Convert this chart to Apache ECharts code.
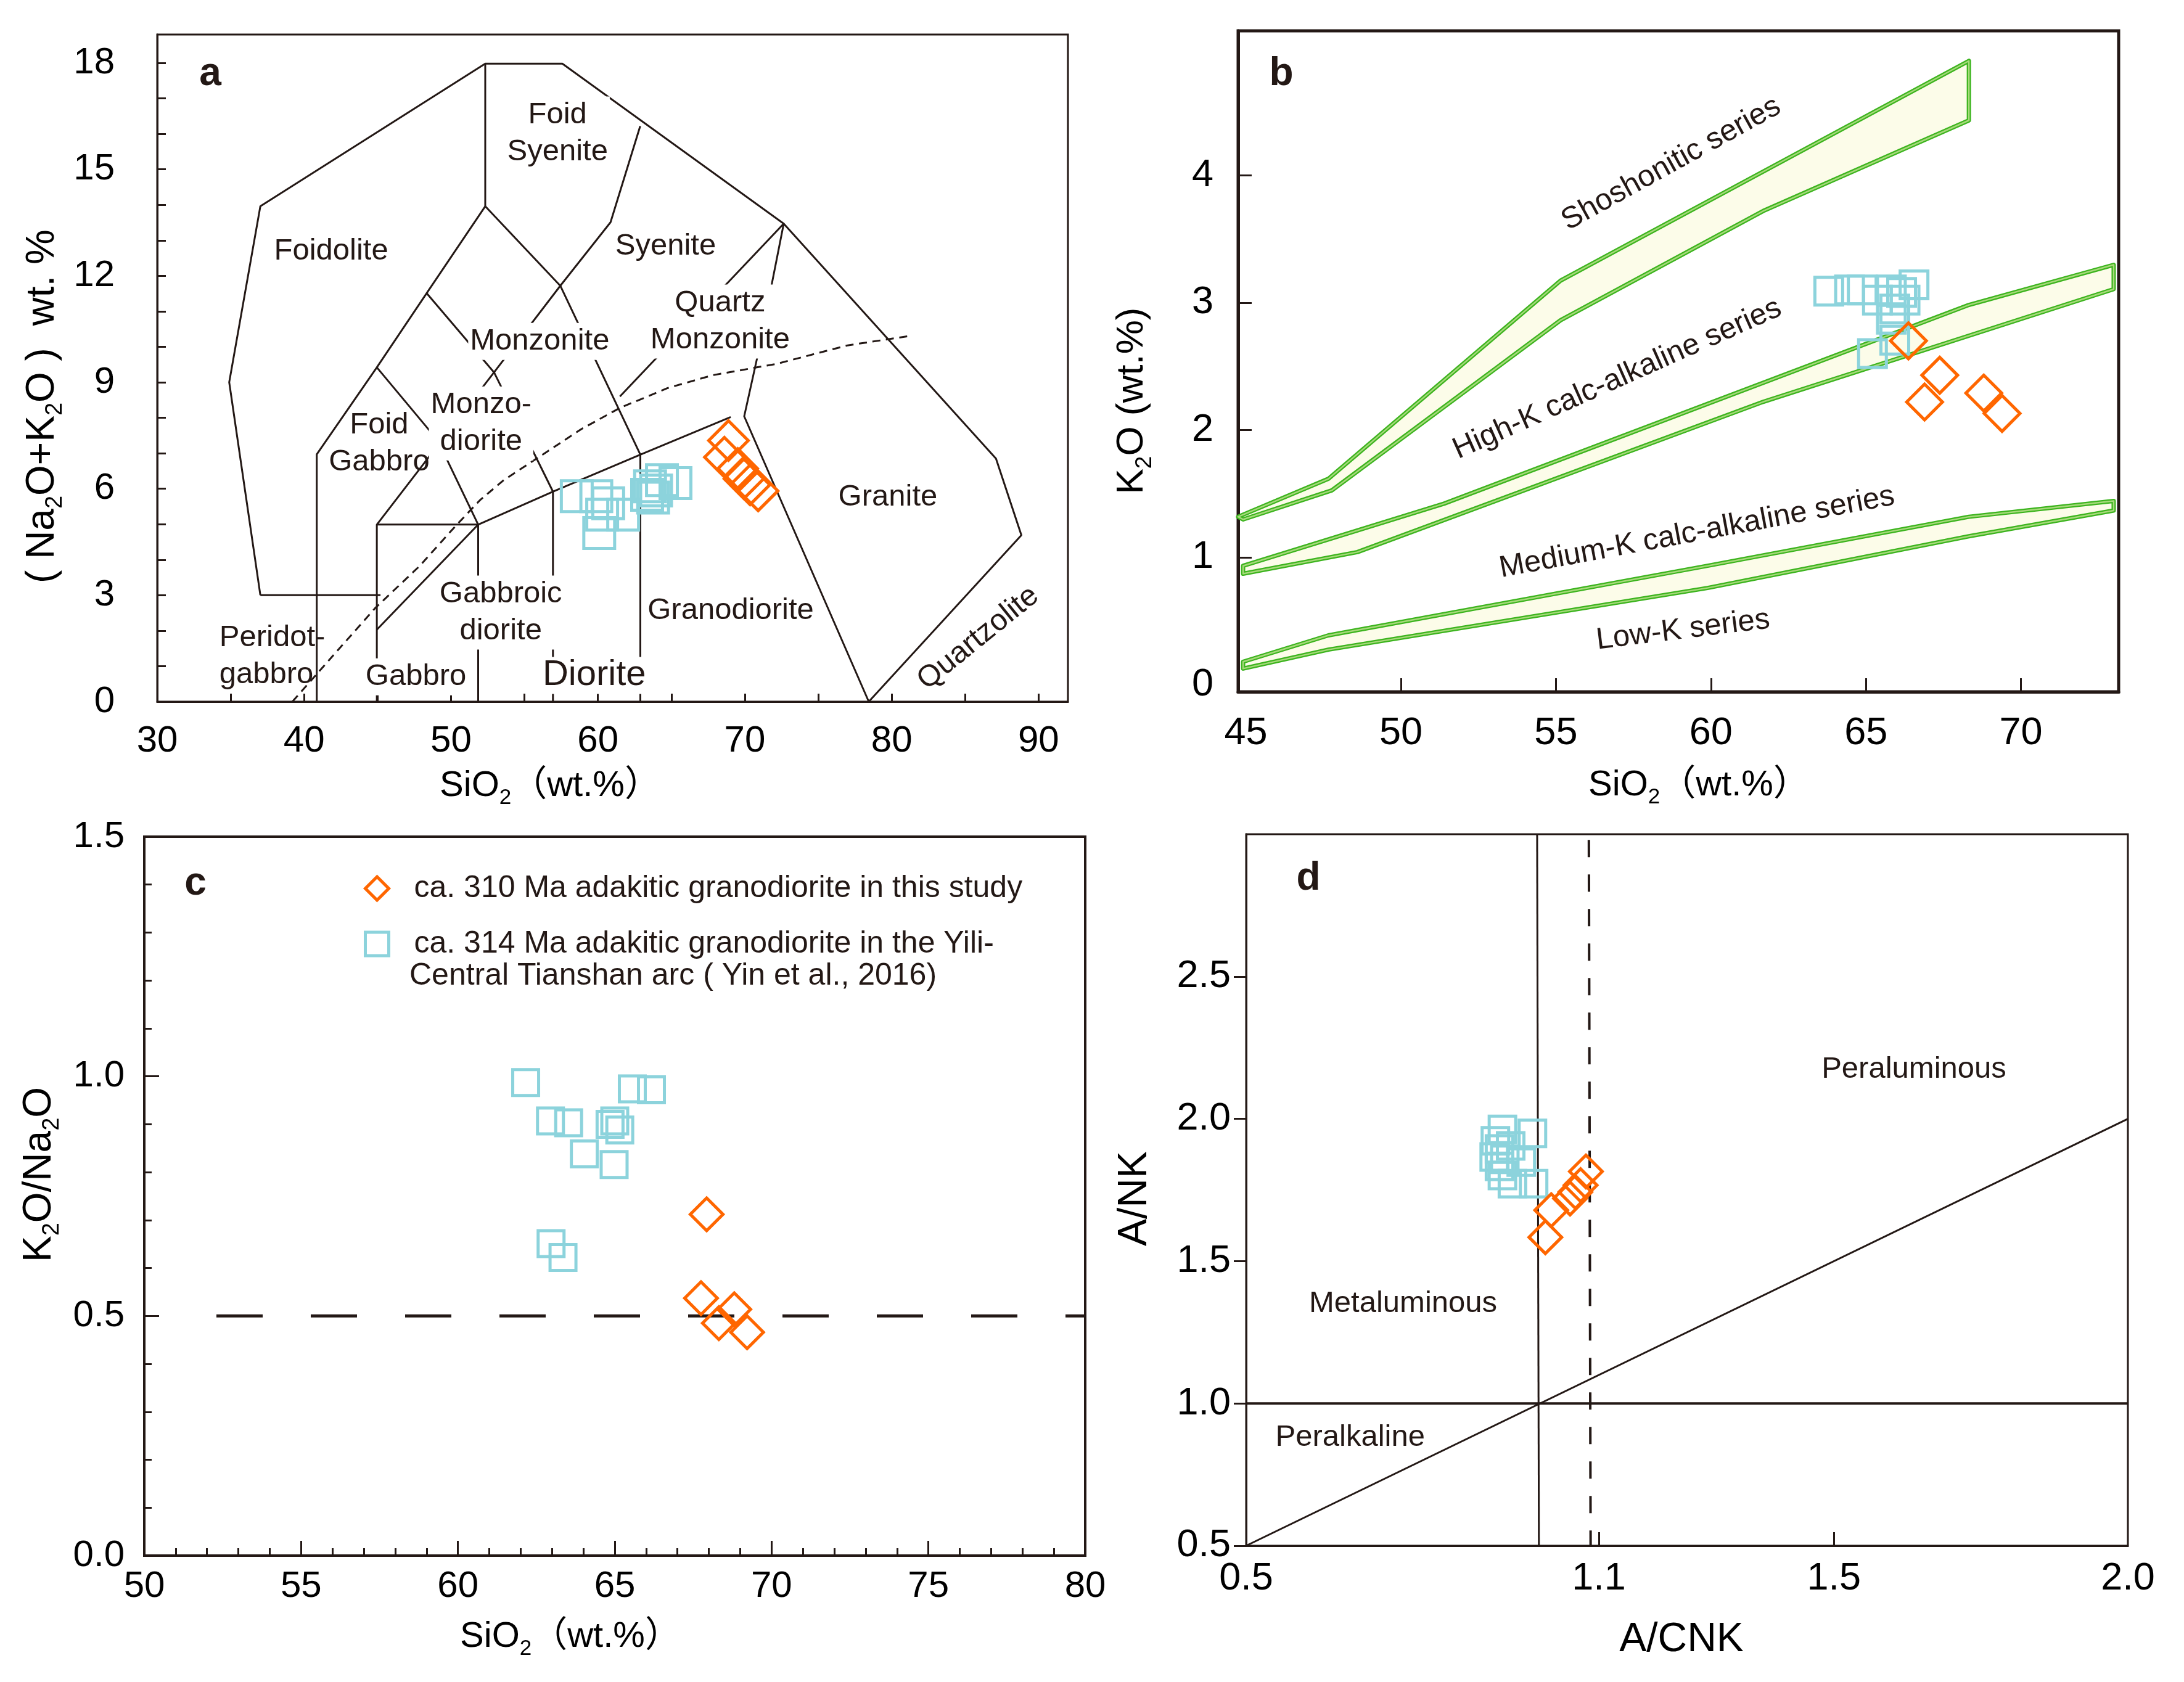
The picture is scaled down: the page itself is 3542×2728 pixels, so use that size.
<!DOCTYPE html>
<html>
<head>
<meta charset="utf-8">
<script src="https://cdn.jsdelivr.net/npm/echarts@6/dist/echarts.min.js"></script>
<style>html,body{margin:0;padding:0;background:#fff}#c{width:3542px;height:2728px}</style>
</head>
<body>
<div id="c"></div>
<script>
// ---------------- DATA ----------------
const NAME_THIS = 'ca. 310 Ma adakitic granodiorite in this study';
const NAME_YIN = 'ca. 314 Ma adakitic granodiorite in the Yili-\nCentral Tianshan arc ( Yin et al., 2016)';

// Panel a: TAS (SiO2 vs Na2O+K2O)
const tasSiO2_this = [68.89, 68.61, 69.52, 69.94, 70.36, 70.91];
const tasAlk_this  = [7.36, 6.89, 6.57, 6.28, 6.11, 5.94];
const tasSiO2_yin  = [58.56, 59.89, 60.70, 60.29, 60.09, 61.72, 63.35, 63.55, 64.36, 65.28, 63.76, 63.96];
const tasAlk_yin   = [5.79, 5.79, 5.59, 5.27, 4.75, 5.27, 5.83, 6.07, 6.24, 6.16, 5.75, 5.95];

// Panel b: SiO2 vs K2O
const kSiO2_this = [66.37, 67.38, 66.89, 68.80, 69.39];
const kK2O_this  = [2.70, 2.43, 2.22, 2.29, 2.13];
const kSiO2_yin  = [63.80, 64.47, 64.88, 65.37, 65.82, 66.15, 66.55, 66.26, 65.93, 65.82, 65.93, 65.21];
const kK2O_yin   = [3.09, 3.10, 3.10, 3.02, 3.10, 3.08, 3.14, 3.02, 2.95, 2.87, 2.705, 2.60];

// Panel c: SiO2 vs K2O/Na2O
const rSiO2_this = [67.93, 67.75, 68.81, 68.32, 69.22];
const rRatio_this = [0.712, 0.537, 0.514, 0.485, 0.466];
const rSiO2_yin  = [62.16, 62.95, 63.53, 64.03, 64.98, 65.00, 65.16, 65.56, 66.17, 62.97, 63.35, 64.85];
const rRatio_yin = [0.987, 0.907, 0.903, 0.838, 0.816, 0.907, 0.888, 0.974, 0.972, 0.651, 0.622, 0.900];

// Panel d: A/CNK vs A/NK
const dACNK_this = [1.009, 1.019, 1.051, 1.060, 1.069, 1.078];
const dANK_this  = [1.584, 1.679, 1.720, 1.743, 1.767, 1.815];
const dACNK_yin  = [0.936, 0.987, 0.924, 0.931, 0.922, 0.968, 0.931, 0.936, 0.953, 0.989, 0.950, 0.940];
const dANK_yin   = [1.963, 1.949, 1.923, 1.894, 1.866, 1.848, 1.833, 1.801, 1.772, 1.772, 1.905, 1.858];

// Field boundaries (data coordinates)
const tasBoundaries = [
  [[37.02,3.0],[34.9,9.0],[37.02,13.96],[52.33,17.98],[57.58,17.98],[72.65,13.47],[87.1,6.85],[88.83,4.69],[78.44,0]],
  [[37.02,3.0],[45.2,3.0]],
  [[52.33,17.98],[52.33,13.96]],
  [[52.33,13.96],[48.34,11.51],[44.95,9.42],[40.86,6.97],[40.86,0]],
  [[52.33,13.96],[57.44,11.72],[62.89,6.96],[62.89,0]],
  [[62.88,16.22],[60.86,13.51],[57.44,11.72],[52.93,9.28],[44.95,4.99],[44.95,0]],
  [[48.34,11.51],[52.93,9.28],[56.94,5.92],[56.94,0]],
  [[44.95,9.42],[49.1,7.36],[51.85,4.99],[51.85,0]],
  [[44.95,4.99],[51.85,4.99]],
  [[44.95,2.03],[51.85,4.99],[56.94,5.92],[62.89,6.96],[69.04,8.02]],
  [[72.65,13.47],[61.5,8.6]],
  [[72.65,13.47],[70.88,9.76],[69.96,8.04],[78.44,0]]
];
const tasAlkalineCurve = [[39.2,0],[44.82,2.63],[47.88,3.83],[50.31,4.95],[51.95,5.67],[53.58,6.24],[56.23,6.96],[58.87,7.68],[61.51,8.28],[64.77,8.84],[67.82,9.2],[72.17,9.52],[76.99,10.04],[81.32,10.31]];

const bandShoUpper = [[44.75,1.319],[47.66,1.617],[55.15,3.173],[68.32,4.898]];
const bandShoLower = [[44.91,1.298],[47.77,1.526],[55.15,2.862],[61.68,3.719],[68.32,4.431]];
const bandHiKUpper = [[44.91,0.934],[51.39,1.422],[68.32,2.982],[72.99,3.297]];
const bandHiKLower = [[44.91,0.872],[48.6,1.042],[61.68,2.221],[72.99,3.106]];
const bandLoKUpper = [[44.91,0.181],[47.66,0.388],[59.89,0.934],[68.32,1.319],[72.99,1.443]];
const bandLoKLower = [[44.91,0.127],[47.66,0.276],[59.89,0.760],[68.32,1.166],[72.99,1.368]];

const ratioLine = [[52.3,0.5],[80,0.5]];
const dHorizontal = [[0.5,1.0],[2.0,1.0]];
const dDiagonal = [[0.5,0.5],[2.0,2.0]];
const dMetaluminous = [[0.995,3.0],[0.998,0.5]];
const dDashed = [[1.083,2.98],[1.086,0.5]];

// Tick values / labels
const aXTicks = [30,35,40,45,50,55,60,65,70,75,80,85,90];
const aXLabels = [30,40,50,60,70,80,90];
const aYTicks = [0,1,2,3,4,5,6,7,8,9,10,11,12,13,14,15,16,17,18];
const aYLabels = [0,3,6,9,12,15,18];
const bXTicks = [50,55,60,65,70];
const bXLabels = [45,50,55,60,65,70];
const bYTicks = [1,2,3,4];
const bYLabels = [0,1,2,3,4];
const dXTicks = [1.1,1.5];
const dXLabels = [0.5,1.1,1.5,2.0];
const dYTicks = [0.5,1.0,1.5,2.0,2.5];
const dYLabels = [0.5,1.0,1.5,2.0,2.5];

// Field names
const tasFieldNames = [
  {t:'Foid\nSyenite', x:57.25, y:16.01, bg:true},
  {t:'Foidolite', x:41.84, y:12.69},
  {t:'Syenite', x:64.61, y:12.84, bg:true},
  {t:'Quartz\nMonzonite', x:68.32, y:10.71, bg:true},
  {t:'Monzonite', x:56.04, y:10.15, bg:true},
  {t:'Monzo-\ndiorite', x:52.05, y:7.84, bg:true},
  {t:'Foid\nGabbro', x:45.11, y:7.28},
  {t:'Granite', x:79.74, y:5.76},
  {t:'Gabbroic\ndiorite', x:53.39, y:2.51, bg:true},
  {t:'Granodiorite', x:69.04, y:2.56, bg:true},
  {t:'Peridot-\ngabbro', x:34.23, y:1.28, align:'left'},
  {t:'Gabbro', x:47.61, y:0.70, bg:true},
  {t:'Diorite', x:59.75, y:0.74, fs:58, bg:true},
  {t:'Quartzolite', x:85.9, y:1.79, r:39}
];
const kSeriesNames = [
  {t:'Shoshonitic series', x:58.72, y:4.09, r:29},
  {t:'High-K calc-alkaline series', x:56.98, y:2.40, r:24},
  {t:'Medium-K calc-alkaline series', x:59.55, y:1.195, r:10.5},
  {t:'Low-K series', x:59.1, y:0.429, r:7}
];
const dFieldNames = [
  {t:'Peraluminous', x:1.636, y:2.173},
  {t:'Metaluminous', x:0.767, y:1.35},
  {t:'Peralkaline', x:0.677, y:0.88}
];

// ---------------- STYLE ----------------
const FONT = "'Liberation Sans', Arial, 'Noto Sans CJK SC', sans-serif";
const INK = '#231815';
const ORANGE = '#ff6600';
const CYAN = '#8cd3dc';

const grids = [
  {left:255, top:56, width:1477, height:1082, bw:3},
  {left:2008, top:50, width:1428, height:1072, bw:5},
  {left:234, top:1357, width:1526, height:1166, bw:4},
  {left:2021, top:1353, width:1430, height:1154, bw:3}
];

function axis(g, o) {
  const a = {
    type:'value', gridIndex:g, min:o.min, max:o.max,
    splitLine:{show:false},
    axisLine:{show:true, onZero:false, lineStyle:{color:INK, width:grids[g].bw}},
    axisTick:{show:true, inside:o.inside, length:o.tickLen, lineStyle:{color:INK, width:3}},
    axisLabel:{show:true, margin:o.margin, fontSize:o.fs, fontFamily:FONT, color:'#000'}
  };
  if (o.ticks) a.axisTick.customValues = o.ticks;
  if (o.labels) a.axisLabel.customValues = o.labels;
  if (o.interval) a.interval = o.interval;
  if (o.fmt) a.axisLabel.formatter = o.fmt;
  if (o.minor) a.minorTick = {show:true, splitNumber:o.minor, length:12, lineStyle:{color:INK, width:3}};
  return a;
}
const f1 = v => Number(v).toFixed(1);

const xAxes = [
  axis(0, {min:30, max:92, ticks:aXTicks, labels:aXLabels, inside:true, tickLen:13, margin:34, fs:60}),
  axis(1, {min:44.75, max:73.15, ticks:bXTicks, labels:bXLabels, inside:true, tickLen:22, margin:36, fs:63}),
  axis(2, {min:50, max:80, interval:5, minor:5, inside:true, tickLen:24, margin:20, fs:60}),
  axis(3, {min:0.5, max:2.0, ticks:dXTicks, labels:dXLabels, inside:true, tickLen:22, margin:22, fs:63, fmt:f1})
];
const yAxes = [
  axis(0, {min:0, max:18.8, ticks:aYTicks, labels:aYLabels, inside:true, tickLen:14, margin:69, fs:60}),
  axis(1, {min:-0.055, max:5.134, ticks:bYTicks, labels:bYLabels, inside:true, tickLen:22, margin:40, fs:63}),
  axis(2, {min:0, max:1.5, interval:0.5, minor:5, inside:true, tickLen:24, margin:32, fs:60, fmt:f1}),
  axis(3, {min:0.5, max:3.0, ticks:dYTicks, labels:dYLabels, inside:false, tickLen:20, margin:25, fs:63, fmt:f1})
];

const series = [];
function addLine(pts, g, extra) {
  series.push({type:'line', xAxisIndex:g, yAxisIndex:g, data:pts, symbol:'none', showSymbol:false,
    silent:true, animation:false, z:3,
    lineStyle:Object.assign({color:INK, width:3}, extra || {})});
}
function addPoints(name, xs, ys, g, symbol, size) {
  const isThis = name === NAME_THIS;
  series.push({type:'scatter', name:name, xAxisIndex:g, yAxisIndex:g,
    data:xs.map((x, i) => [x, ys[i]]), symbol:symbol, symbolSize:size,
    itemStyle:{color:'rgba(0,0,0,0)', borderColor:isThis ? ORANGE : CYAN, borderWidth:5, opacity:1},
    z:isThis ? 7 : 6, animation:false});
}
function addText(items, g, fs, lh) {
  items.forEach(it => {
    series.push({type:'scatter', xAxisIndex:g, yAxisIndex:g, silent:true, animation:false, z:4,
      data:[{value:[it.x, it.y], name:it.t}], symbolSize:1, itemStyle:{color:'rgba(0,0,0,0)', opacity:1},
      label:{show:true, position:'inside', formatter:it.t, fontSize:it.fs || fs, fontFamily:FONT,
        color:INK, opacity:1, rotate:it.r || 0, align:it.align || 'center', verticalAlign:'middle', lineHeight:lh,
        textBorderWidth:0,
        backgroundColor:it.bg ? '#ffffff' : 'transparent', padding:it.bg ? [0, 3] : 0}});
  });
}

// Panel a
tasBoundaries.forEach(l => addLine(l, 0));
addLine(tasAlkalineCurve, 0, {type:[13, 9], width:3});
addText(tasFieldNames, 0, 49, 60);
addPoints(NAME_YIN, tasSiO2_yin, tasAlk_yin, 0, 'rect', 50);
addPoints(NAME_THIS, tasSiO2_this, tasAlk_this, 0, 'diamond', 64);

// Panel b
const bands = [
  {u:bandShoUpper, l:bandShoLower},
  {u:bandHiKUpper, l:bandHiKLower},
  {u:bandLoKUpper, l:bandLoKLower}
];
series.push({type:'custom', xAxisIndex:1, yAxisIndex:1, silent:true, animation:false, z:2,
  data:bands.map(b => b.u[0]),
  renderItem:function(params, api) {
    const b = bands[params.dataIndex];
    const pts = b.u.concat(b.l.slice().reverse()).map(p => api.coord(p));
    return {type:'group', children:[
      {type:'polygon', shape:{points:pts}, style:{fill:'#fcfce9', stroke:'#3cb41e', lineWidth:7, lineJoin:'round'}},
      {type:'polygon', shape:{points:pts}, style:{fill:'none', stroke:'#a8da7c', lineWidth:2.5, lineJoin:'round'}}
    ]};
  }});
addText(kSeriesNames, 1, 49, 56);
addPoints(NAME_YIN, kSiO2_yin, kK2O_yin, 1, 'rect', 45);
addPoints(NAME_THIS, kSiO2_this, kK2O_this, 1, 'diamond', 58);

// Panel c
addLine(ratioLine, 2, {type:[75, 78], width:5});
addPoints(NAME_YIN, rSiO2_yin, rRatio_yin, 2, 'rect', 42);
addPoints(NAME_THIS, rSiO2_this, rRatio_this, 2, 'diamond', 53);

// Panel d
addLine(dHorizontal, 3, {width:4});
addLine(dDiagonal, 3, {width:3});
addLine(dMetaluminous, 3, {width:3});
addLine(dDashed, 3, {type:[28, 28], width:4});
addText(dFieldNames, 3, 49, 56);
addPoints(NAME_YIN, dACNK_yin, dANK_yin, 3, 'rect', 43);
addPoints(NAME_THIS, dACNK_this, dANK_this, 3, 'diamond', 53);

// Titles
function richT(fs) {
  return {
    a:{fontSize:fs, fontFamily:FONT, fill:'#000', color:'#000', lineHeight:Math.round(fs*1.25)},
    s:{fontSize:Math.round(fs*0.6), fontFamily:FONT, fill:'#000', color:'#000', lineHeight:Math.round(fs*0.6), verticalAlign:'bottom'}
  };
}
function title(text, x, y, fs, rot) {
  return {type:'text', x:x, y:y, rotation:rot || 0, z:10, silent:true,
    style:{text:text, rich:richT(fs), align:'center', verticalAlign:'middle', textAlign:'center', textVerticalAlign:'middle',
      font:fs + 'px ' + FONT, fill:'#000'}};
}
function letter(t, x, y) {
  return {type:'text', x:x, y:y, z:10, silent:true,
    style:{text:t, font:'bold 64px ' + FONT, fill:INK, align:'center', verticalAlign:'middle', textAlign:'center', textVerticalAlign:'middle'}};
}
const graphics = [
  title('{a|SiO}{s|2}{a|（wt.%）}', 892, 1275, 58),
  title('{a|( Na}{s|2}{a|O+K}{s|2}{a|O )  wt. %}', 69, 659, 64, Math.PI / 2),
  title('{a|SiO}{s|2}{a|（wt.%）}', 2755, 1274, 58),
  title('{a|K}{s|2}{a|O (wt.%)}', 1836, 650, 62, Math.PI / 2),
  title('{a|SiO}{s|2}{a|（wt.%）}', 925, 2655, 58),
  title('{a|K}{s|2}{a|O/Na}{s|2}{a|O}', 64, 1905, 64, Math.PI / 2),
  title('{a|A/CNK}', 2727, 2660, 66),
  title('{a|A/NK}', 1841, 1944, 66, Math.PI / 2),
  letter('a', 341, 120),
  letter('b', 2078, 120),
  letter('c', 317, 1433),
  letter('d', 2122, 1425),
  {type:'text', x:664, y:1583, z:10, silent:true,
    style:{text:'Central Tianshan arc ( Yin et al., 2016)', font:'50px ' + FONT, fill:INK, align:'left', verticalAlign:'middle', textAlign:'left', textVerticalAlign:'middle'}}
];

const chart = echarts.init(document.getElementById('c'), null, {renderer:'canvas', width:3542, height:2728});
chart.setOption({
  backgroundColor:'#ffffff',
  animation:false,
  grid:grids.map(g => ({left:g.left, top:g.top, width:g.width, height:g.height, show:true,
    borderColor:INK, borderWidth:g.bw, backgroundColor:'transparent', containLabel:false})),
  xAxis:xAxes,
  yAxis:yAxes,
  legend:{
    left:585, top:1408, orient:'vertical', selectedMode:false,
    itemWidth:38, itemHeight:38, itemGap:34,
    itemStyle:{borderWidth:5},
    textStyle:{fontSize:50, fontFamily:FONT, color:INK, lineHeight:56, padding:[0, 0, 0, 36]},
    formatter:name => name.split('\n')[0],
    data:[{name:NAME_THIS, icon:'diamond'}, {name:NAME_YIN, icon:'rect'}]
  },
  graphic:graphics,
  series:series
});
</script>
</body>
</html>
